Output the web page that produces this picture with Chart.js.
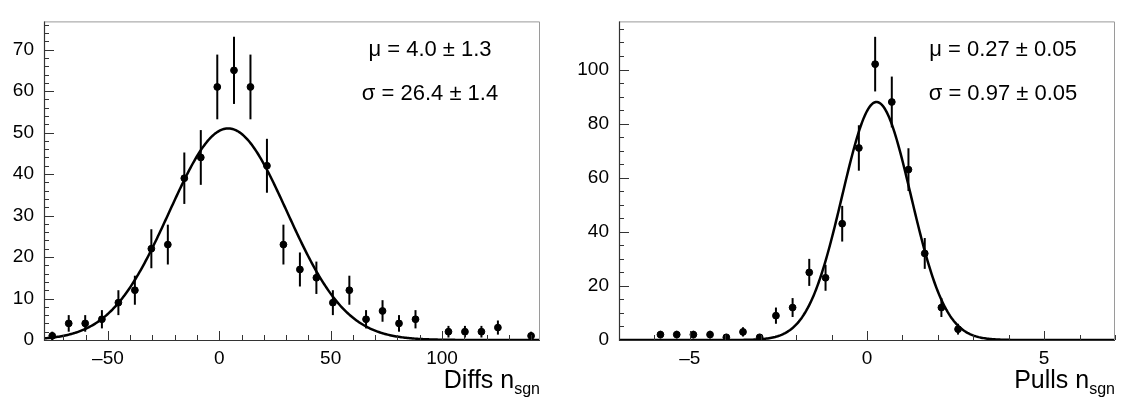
<!DOCTYPE html>
<html><head><meta charset="utf-8">
<script src="https://cdn.jsdelivr.net/npm/chart.js@4/dist/chart.umd.min.js"></script>
<style>
html,body{margin:0;padding:0;background:#fff;width:1121px;height:398px;overflow:hidden}
.wrap{position:absolute;top:0;height:398px}
#w1{left:0;width:560px}
#w2{left:560px;width:561px}
</style></head><body>
<div class="wrap" id="w1"><canvas id="c1"></canvas></div>
<div class="wrap" id="w2"><canvas id="c2"></canvas></div>
<script>
// ---- Left panel: Diffs n_sgn ----
const diffsCenters = [-75.0,-67.6,-60.2,-52.7,-45.3,-37.9,-30.5,-23.1,-15.7,-8.3,-0.9,6.6,14.0,21.4,28.8,36.2,43.6,51.0,58.4,65.9,73.3,80.7,88.1,102.9,110.3,117.7,125.1,140.0];
const diffsCounts  = [1,4,4,5,9,12,22,23,39,44,61,65,61,42,23,17,15,9,12,5,7,4,5,2,2,2,3,1];
const diffsErrors  = [1,2,2,2.2,3,3.5,4.7,4.8,6.2,6.6,7.8,8.1,7.8,6.5,4.8,4.1,3.9,3,3.5,2.2,2.6,2,2.2,1.4,1.4,1.4,1.7,1];
const diffsFit = {mu: 4.0, sigma: 26.4, amp: 51.0};
const diffsXRange = [-78.7, 144.0];
const diffsYRange = [0, 76.8];
const diffsXTicks = [-50, 0, 50, 100];
const diffsYTicks = [0, 10, 20, 30, 40, 50, 60, 70];
const diffsLabels = ["\u03bc = 4.0 \u00b1 1.3", "\u03c3 = 26.4 \u00b1 1.4"];

// ---- Right panel: Pulls n_sgn ----
const pullsCenters = [-5.83,-5.37,-4.90,-4.43,-3.97,-3.50,-3.03,-2.57,-2.10,-1.63,-1.17,-0.70,-0.23,0.23,0.70,1.17,1.63,2.10,2.57];
const pullsCounts  = [2,2,2,2,1,3,1,9,12,25,23,43,71,102,88,63,32,12,4];
const pullsErrors  = [1.4,1.4,1.4,1.4,1,1.7,1,3,3.5,5,4.8,6.6,8.4,10.1,9.4,7.9,5.7,3.5,2];
const pullsFit = {mu: 0.27, sigma: 0.97, amp: 88.0};
const pullsXRange = [-7, 7];
const pullsYRange = [0, 117.8];
const pullsXTicks = [-5, 0, 5];
const pullsYTicks = [0, 20, 40, 60, 80, 100];
const pullsLabels = ["\u03bc = 0.27 \u00b1 0.05", "\u03c3 = 0.97 \u00b1 0.05"];

const FONT = "'Liberation Sans', Arial, Helvetica, sans-serif";

function gaussCurve(fit, range, n) {
  const pts = [];
  for (let i = 0; i <= n; i++) {
    const x = range[0] + (range[1] - range[0]) * i / n;
    const z = (x - fit.mu) / fit.sigma;
    pts.push({x: x, y: fit.amp * Math.exp(-0.5 * z * z)});
  }
  return pts;
}

function fmt(v) { return v < 0 ? '\u2013' + Math.abs(v) : String(v); }

function makeChart(id, cfg) {
  const pts = cfg.centers.map((c, i) => ({x: c, y: cfg.counts[i], e: cfg.errors[i]}));
  const errPlugin = {
    id: 'errbars',
    beforeDatasetsDraw(chart) {
      const ctx = chart.ctx, xs = chart.scales.x, ys = chart.scales.y;
      ctx.save();
      ctx.strokeStyle = '#000';
      ctx.lineWidth = 2;
      pts.forEach(p => {
        const px = xs.getPixelForValue(p.x);
        ctx.beginPath();
        ctx.moveTo(px, ys.getPixelForValue(Math.max(0, p.y - p.e)));
        ctx.lineTo(px, ys.getPixelForValue(p.y + p.e));
        ctx.stroke();
      });
      ctx.restore();
    },
    afterDraw(chart) {
      const ctx = chart.ctx, xs = chart.scales.x, ys = chart.scales.y, a = chart.chartArea;
      ctx.save();
      // frame
      ctx.lineWidth = 1;
      ctx.strokeStyle = '#9a9a9a';
      ctx.beginPath();
      ctx.moveTo(a.left, a.top + 0.5); ctx.lineTo(a.right - 0.5, a.top + 0.5); ctx.lineTo(a.right - 0.5, a.bottom);
      ctx.stroke();
      ctx.strokeStyle = '#333';
      ctx.lineWidth = 1.2;
      ctx.beginPath();
      ctx.moveTo(a.left + 0.5, a.top); ctx.lineTo(a.left + 0.5, a.bottom + 0.5); ctx.lineTo(a.right, a.bottom + 0.5);
      ctx.stroke();
      // ticks (inward)
      ctx.lineWidth = 1;
      ctx.strokeStyle = '#333';
      ctx.beginPath();
      for (let v = cfg.yRange[0]; v <= cfg.yRange[1] + 1e-9; v += cfg.yMinor) {
        const major = Math.abs(v / cfg.yMajor - Math.round(v / cfg.yMajor)) < 1e-6;
        const py = Math.round(ys.getPixelForValue(v)) + 0.5;
        ctx.moveTo(a.left, py); ctx.lineTo(a.left + (major ? 10 : 5), py);
      }
      const start = Math.ceil(cfg.xRange[0] / cfg.xMinor) * cfg.xMinor;
      for (let v = start; v <= cfg.xRange[1] + 1e-9; v += cfg.xMinor) {
        const major = Math.abs(v / cfg.xMajor - Math.round(v / cfg.xMajor)) < 1e-6;
        const px = Math.round(xs.getPixelForValue(v)) + 0.5;
        ctx.moveTo(px, a.bottom); ctx.lineTo(px, a.bottom - (major ? 9 : 5));
      }
      ctx.stroke();
      // fit parameter labels
      ctx.fillStyle = '#000';
      ctx.font = '22px ' + FONT;
      ctx.textAlign = 'center';
      ctx.textBaseline = 'middle';
      ctx.fillText(cfg.labels[0], cfg.labelX, 50);
      ctx.fillText(cfg.labels[1], cfg.labelX, 94);
      // axis title with subscript
      ctx.textBaseline = 'alphabetic';
      ctx.textAlign = 'left';
      ctx.font = '16px ' + FONT;
      const subW = ctx.measureText('sgn').width;
      ctx.font = '25px ' + FONT;
      const mainW = ctx.measureText(cfg.title).width;
      const x0 = a.right - subW - mainW;
      ctx.fillText(cfg.title, x0, 388);
      ctx.font = '16px ' + FONT;
      ctx.fillText('sgn', x0 + mainW, 394);
      ctx.restore();
    }
  };
  return new Chart(document.getElementById(id), {
    type: 'scatter',
    data: {
      datasets: [
        {data: pts, backgroundColor: '#000', borderColor: '#000', pointRadius: 3.4, pointHoverRadius: 3.4, order: 1},
        {data: gaussCurve(cfg.fit, cfg.xRange, 400), showLine: true, borderColor: '#000', borderWidth: 2.5,
         pointRadius: 0, fill: false, tension: 0, order: 2}
      ]
    },
    options: {
      responsive: true, maintainAspectRatio: false, animation: false,
      events: [],
      layout: {padding: {top: cfg.padTop, right: cfg.padRight, left: 0, bottom: 0}},
      plugins: {legend: {display: false}, tooltip: {enabled: false}},
      scales: {
        x: {
          type: 'linear', min: cfg.xRange[0], max: cfg.xRange[1],
          grid: {display: false, drawTicks: false}, border: {display: false},
          afterBuildTicks: s => { s.ticks = cfg.xTicks.map(v => ({value: v})); },
          afterFit: s => { s.height = 58; },
          ticks: {color: '#000', font: {family: FONT, size: 19}, padding: 7, maxRotation: 0, autoSkip: false,
                  callback: v => fmt(v)}
        },
        y: {
          type: 'linear', min: cfg.yRange[0], max: cfg.yRange[1],
          grid: {display: false, drawTicks: false}, border: {display: false},
          afterBuildTicks: s => { s.ticks = cfg.yTicks.map(v => ({value: v})); },
          afterFit: s => { s.width = cfg.yWidth; },
          ticks: {color: '#000', font: {family: FONT, size: 19}, padding: 10, autoSkip: false,
                  callback: v => String(v)}
        }
      }
    },
    plugins: [errPlugin]
  });
}

makeChart('c1', {
  centers: diffsCenters, counts: diffsCounts, errors: diffsErrors, fit: diffsFit,
  xRange: diffsXRange, yRange: diffsYRange, xTicks: diffsXTicks, yTicks: diffsYTicks,
  xMajor: 50, xMinor: 10, yMajor: 10, yMinor: 2,
  labels: diffsLabels, labelX: 430, title: 'Diffs n',
  yWidth: 44, padTop: 8, padRight: 20
});
makeChart('c2', {
  centers: pullsCenters, counts: pullsCounts, errors: pullsErrors, fit: pullsFit,
  xRange: pullsXRange, yRange: pullsYRange, xTicks: pullsXTicks, yTicks: pullsYTicks,
  xMajor: 5, xMinor: 1, yMajor: 20, yMinor: 5,
  labels: pullsLabels, labelX: 443, title: 'Pulls n',
  yWidth: 59, padTop: 8, padRight: 6
});
</script>
</body></html>
